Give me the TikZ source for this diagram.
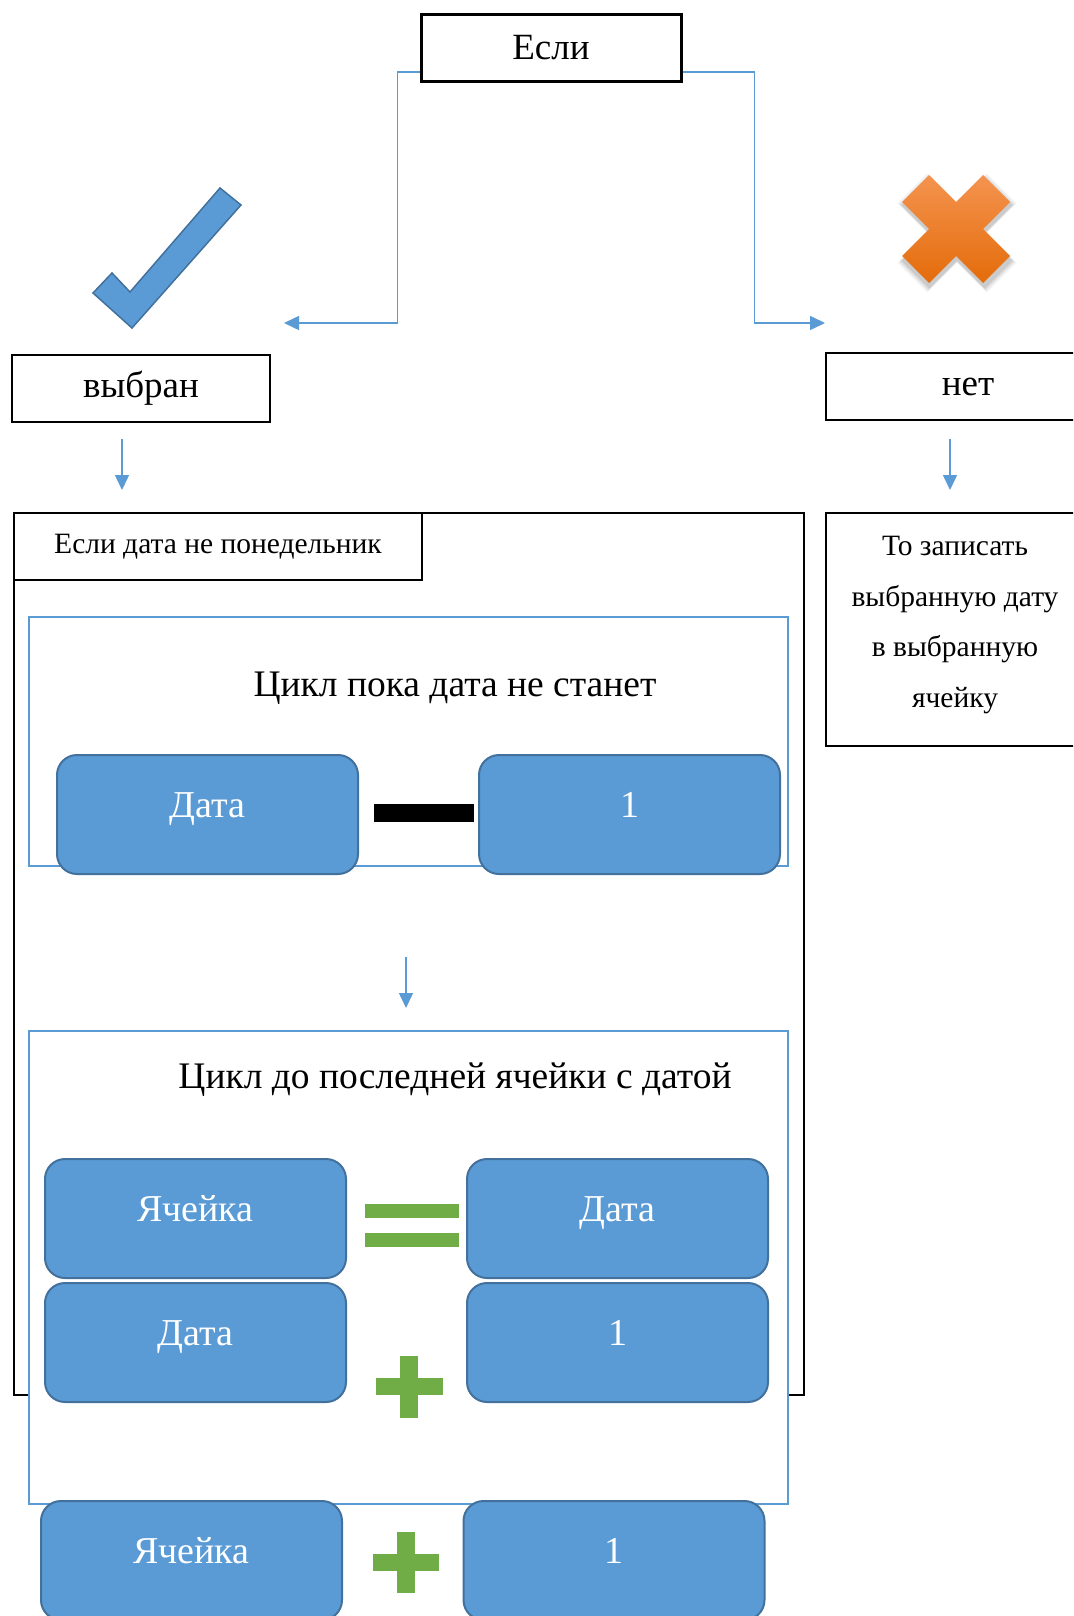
\documentclass[tikz,border=0pt]{standalone}
\usepackage{fontspec}
\setmainfont{Liberation Serif}
\usetikzlibrary{arrows.meta}

\definecolor{officeblue}{HTML}{5B9BD5}
\definecolor{officeedge}{HTML}{41719C}
\definecolor{officegreen}{HTML}{70AD47}
\definecolor{orangetop}{HTML}{F4934F}
\definecolor{orangebot}{HTML}{E46C0A}

\tikzset{
  plainbox/.style={draw, rectangle, line width=2.5pt, fill=white, inner sep=0pt},
  loopbox/.style={draw=officeblue, rectangle, line width=2pt, fill=white, inner sep=0pt},
  valbox/.style={draw=officeedge, fill=officeblue, rectangle, rounded corners=20pt, line width=2pt,
    text=white, minimum width=301pt, minimum height=119pt, inner sep=0pt,
    text height=26pt, text depth=20pt, font=\fontsize{38}{45}\selectfont},
  flow/.style={draw=officeblue, line width=1.5pt, -{Triangle[length=15pt,width=14pt]}},
  big/.style={font=\fontsize{37}{44}\selectfont},
  looptitle/.style={font=\fontsize{37.5}{45}\selectfont},
}

\begin{document}
\begin{tikzpicture}[x=1pt, y=-1pt]
\clip (0,0) rectangle (1073,1616);
\fill [white] (0,0) rectangle (1073,1616);

% top: condition and its two answers
\node [plainbox, line width=3pt, minimum width=260pt, minimum height=67pt, big] (esli) at (551,48) {Если};
\node [plainbox, minimum width=258pt, minimum height=67pt, big] (vybran) at (141,388.5) {выбран};
\node [plainbox, minimum width=284pt, minimum height=67pt, big] (net) at (968,386.5) {нет};

\coordinate (yesend) at (284,323);
\coordinate (noend) at (825,323);
\draw [flow] ([yshift=11pt]esli.south west) -- ++(-22,0) |- (yesend);
\draw [flow] ([yshift=11pt]esli.south east) -- ++(72,0) |- (noend);

% tick and cross
\draw [fill=officeblue, draw=officeedge, line width=1.5pt]
  (112,273) -- (130,292) -- (220,188) -- (241,205) -- (132,328) -- (93,293) -- cycle;
\foreach \blur/\op in {6/0.05, 4/0.07, 2/0.09} {
  \fill [black, opacity=\op, shift={(957,233)}, scale=1+\blur/60]
    (0,-27) -- (27,-54) -- (54,-27) -- (27,0) -- (54,27) -- (27,54) -- (0,27)
    -- (-27,54) -- (-54,27) -- (-27,0) -- (-54,-27) -- (-27,-54) -- cycle;
}
\shade [top color=orangetop, bottom color=orangebot, shift={(956,229)}]
  (0,-27) -- (27,-54) -- (54,-27) -- (27,0) -- (54,27) -- (27,54) -- (0,27)
  -- (-27,54) -- (-54,27) -- (-27,0) -- (-54,-27) -- (-27,-54) -- cycle;

\coordinate (yesfrom) at (122,439);
\coordinate (yesto) at (122,490);
\coordinate (nofrom) at (950,439);
\coordinate (noto) at (950,490);
\draw [flow] (yesfrom) -- (yesto);
\draw [flow] (nofrom) -- (noto);

% "no" branch
\node [plainbox, minimum width=258pt, minimum height=233pt] (write) at (955,629.5) {};
\node [align=center, font=\fontsize{29.5}{50.5}\selectfont] (writetext) at (955,625)
  {То записать\\выбранную дату\\в выбранную\\ячейку};

% "yes" branch
\node [plainbox, minimum width=790pt, minimum height=882pt] (outer) at (409,954) {};
\node [plainbox, minimum width=408pt, minimum height=67pt, font=\fontsize{29.5}{35}\selectfont] (notmon) at (218,546.5) {Если дата не понедельник};

% first loop
\node [loopbox, minimum width=759pt, minimum height=249pt] (loopa) at (408.5,741.5) {};
\node [looptitle] (loopatitle) at (455,688) {Цикл пока дата не станет};
\node [valbox] (datea) at (207.5,814.5) {Дата};
\node [valbox] (onea) at (629.5,814.5) {1};
\fill [black] (374,804) rectangle (474,822);

\coordinate (loopout) at (406,957);
\coordinate (loopin) at (406,1008);
\draw [flow] (loopout) -- (loopin);

% second loop
\node [loopbox, minimum width=759pt, minimum height=473pt] (loopb) at (408.5,1267.5) {};
\node [looptitle] (loopbtitle) at (455,1080) {Цикл до последней ячейки с датой};
\node [valbox] (cellb) at (195.5,1218.5) {Ячейка};
\node [valbox] (dateb) at (617.5,1218.5) {Дата};
\fill [officegreen] (365,1204) rectangle (459,1218);
\fill [officegreen] (365,1233) rectangle (459,1247);
\node [valbox] (datec) at (195.5,1342.5) {Дата};
\node [valbox] (onec) at (617.5,1342.5) {1};
\fill [officegreen] (400,1356) rectangle (418,1418);
\fill [officegreen] (376,1378) rectangle (443,1395);

% next cell
\node [valbox] (celld) at (191.5,1560.5) {Ячейка};
\node [valbox] (oned) at (614,1560.5) {1};
\fill [officegreen] (397,1532) rectangle (415,1593);
\fill [officegreen] (373,1554) rectangle (439,1571);
\end{tikzpicture}
\end{document}
